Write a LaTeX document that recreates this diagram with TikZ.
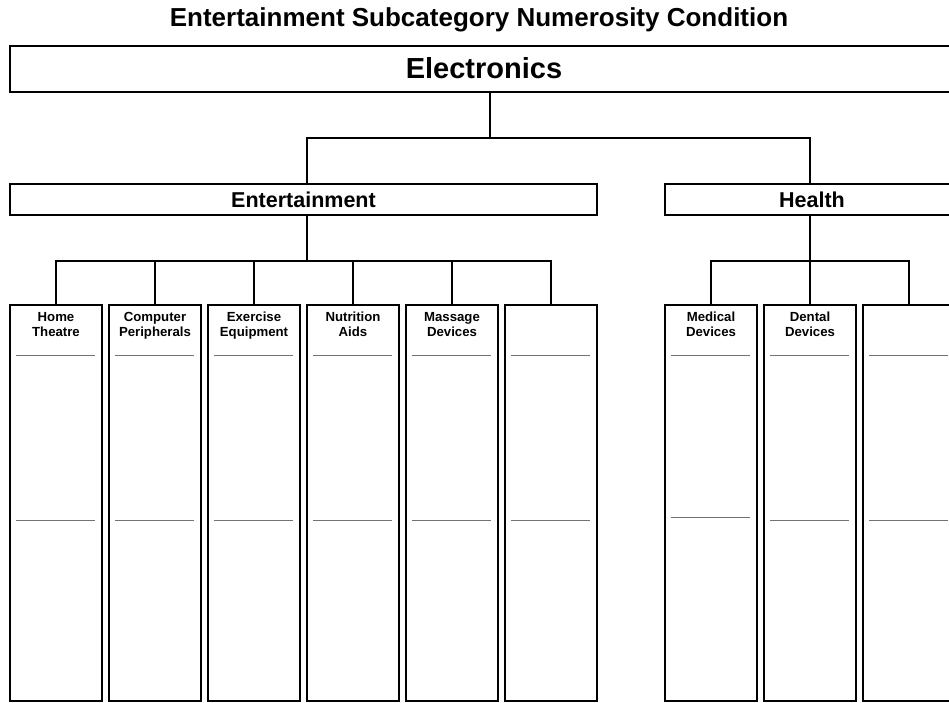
\documentclass[tikz,border=0pt]{standalone}
\usepackage{fontspec}
\setmainfont{Liberation Sans}
\usetikzlibrary{positioning,calc}

\begin{document}
\begin{tikzpicture}[x=1pt,y=-1pt,
    catbox/.style={draw,line width=2.3pt,rectangle,inner sep=0pt},
    leafbox/.style={draw,line width=2.3pt,minimum width=92pt,minimum height=396pt,inner sep=0pt},
    leaftext/.style={anchor=base,align=center,font=\fontsize{13.2}{15}\selectfont\bfseries,inner sep=0pt,yshift=-33pt},
    link/.style={line width=1.8pt},
    blank/.style={black!55,line width=0.9pt}]
  \useasboundingbox (0,0) rectangle (949,702);
  \clip (0,0) rectangle (949,702);

  \node[anchor=base,inner sep=0pt,font=\fontsize{26}{30}\selectfont\bfseries] (title) at (479,26) {Entertainment Subcategory Numerosity Condition};

  % categories
  \node[catbox,minimum width=948pt,minimum height=46pt,text depth=2pt,font=\fontsize{29}{33}\selectfont\bfseries] (elec) at (484,69) {Electronics};
  \node[catbox,minimum width=587pt,minimum height=31pt,font=\fontsize{21.5}{24}\selectfont\bfseries] (ent) at (303.5,199.5) {Entertainment};
  \node[catbox,minimum width=294pt,minimum height=31pt,font=\fontsize{21.5}{24}\selectfont\bfseries] (health) at (812,199.5) {Health};

  % subcategories
  \foreach \x/\n/\t in {56/home/{Home\\Theatre}, 155/comp/{Computer\\Peripherals},
      254/exer/{Exercise\\Equipment}, 353/nutr/{Nutrition\\Aids}, 452/mass/{Massage\\Devices},
      551/entx/{}, 711/medi/{Medical\\Devices}, 810/dent/{Dental\\Devices}, 909/heax/{}}
    \node[leafbox,label={[leaftext]north:\t}] (\n) at (\x,503) {};

  % blanks to fill in
  \foreach \n/\ya/\yb in {home/52/217, comp/52/217, exer/52/217, nutr/52/217, mass/52/217,
      entx/52/217, medi/52/214, dent/52/217, heax/52/217} {
    \draw[blank] ($(\n.north west)+(7,\ya)$) -- ++(79,0);
    \draw[blank] ($(\n.north west)+(7,\yb)$) -- ++(79,0);
  }

  % connectors
  \draw[link] ([xshift=6pt]elec.south) -- ++(0,45) coordinate (topbus);
  \draw[link] ([xshift=3.5pt]ent.north) |- (topbus) -| ([xshift=-2pt]health.north);
  \draw[link] ([xshift=3.5pt]ent.south) -- ++(0,45) coordinate (entbus);
  \foreach \n in {home,comp,exer,nutr,mass,entx}
    \draw[link] (entbus) -| (\n.north);
  \draw[link] ([xshift=-2pt]health.south) -- ++(0,45) coordinate (heabus);
  \foreach \n in {medi,dent,heax}
    \draw[link] (heabus) -| (\n.north);
\end{tikzpicture}
\end{document}
